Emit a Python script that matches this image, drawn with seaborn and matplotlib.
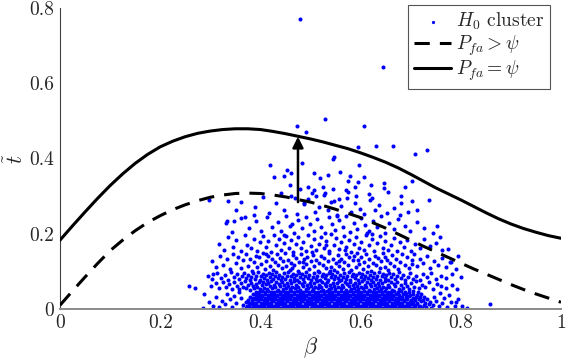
import numpy as np
import pandas as pd
import seaborn as sns
import matplotlib.pyplot as plt

# curves, beta step 0.025
beta_grid = [0.000, 0.025, 0.050, 0.075, 0.100, 0.125, 0.150, 0.175, 0.200, 0.225,
             0.250, 0.275, 0.300, 0.325, 0.350, 0.375, 0.400, 0.425, 0.450, 0.475,
             0.500, 0.525, 0.550, 0.575, 0.600, 0.625, 0.650, 0.675, 0.700, 0.725,
             0.750, 0.775, 0.800, 0.825, 0.850, 0.875, 0.900, 0.925, 0.950, 0.975, 1.000]
t_equal = [0.183, 0.221, 0.258, 0.294, 0.328, 0.359, 0.387, 0.411, 0.431, 0.446,
           0.458, 0.467, 0.473, 0.477, 0.479, 0.479, 0.477, 0.472, 0.466, 0.459,
           0.452, 0.444, 0.435, 0.426, 0.415, 0.403, 0.390, 0.375, 0.358, 0.340,
           0.322, 0.306, 0.290, 0.273, 0.256, 0.240, 0.226, 0.214, 0.204, 0.195, 0.188]
t_greater = [0.010, 0.048, 0.085, 0.121, 0.155, 0.183, 0.208, 0.230, 0.248, 0.264,
             0.277, 0.288, 0.297, 0.303, 0.307, 0.308, 0.307, 0.303, 0.298, 0.291,
             0.284, 0.275, 0.265, 0.254, 0.243, 0.229, 0.215, 0.199, 0.183, 0.167,
             0.152, 0.137, 0.122, 0.107, 0.093, 0.079, 0.065, 0.052, 0.040, 0.029, 0.018]

# arrow from dashed to solid curve
arrow_beta = 0.475
arrow_from = 0.284
arrow_to = 0.458

# H0 cluster points, (beta, t) in thousandths
cluster_outliers = [(479, 771), (645, 644), (473, 486), (528, 504), (492, 470), (607, 486),
                    (595, 431), (630, 434), (664, 434), (708, 411), (732, 422), (546, 405),
                    (545, 398), (484, 387), (596, 382), (419, 383)]
cluster_upper = [(453, 369), (462, 362), (506, 362), (518, 347), (558, 363), (578, 353),
                 (607, 350), (595, 338), (427, 350), (447, 353), (647, 334), (647, 322),
                 (689, 325), (702, 341), (479, 318), (495, 323), (506, 316), (525, 325),
                 (571, 316), (588, 323), (616, 305), (702, 288), (737, 291), (297, 289),
                 (336, 287), (361, 284), (441, 308), (528, 307), (557, 293), (535, 356),
                 (575, 340), (622, 296), (655, 310), (545, 318), (510, 300), (470, 296),
                 (488, 283), (540, 285), (590, 300), (460, 330), (620, 330), (680, 300),
                 (333, 233), (348, 233), (370, 244), (752, 220), (759, 191), (795, 142),
                 (775, 160), (780, 125), (790, 105), (800, 85)]
cluster_band_a = [(352, 262), (389, 271), (405, 297), (418, 255), (431, 283), (447, 262),
                  (462, 301), (474, 252), (487, 279), (496, 293), (508, 258), (517, 271),
                  (526, 303), (534, 262), (546, 287), (553, 251), (561, 274), (572, 296),
                  (581, 258), (589, 281), (598, 267), (607, 252), (619, 289), (628, 262),
                  (637, 276), (652, 255), (667, 268), (681, 283), (694, 257), (713, 262),
                  (503, 309), (575, 312)]
cluster_band_b = [(331, 228), (344, 205), (362, 241), (378, 214), (392, 233), (401, 206),
                  (413, 245), (424, 219), (436, 232), (441, 207), (452, 248), (459, 221),
                  (468, 203), (476, 236), (483, 214), (491, 245), (499, 227), (506, 208),
                  (513, 239), (521, 218), (528, 202), (536, 244), (542, 226), (549, 211),
                  (557, 236), (564, 219), (571, 246), (578, 204), (586, 229), (593, 213),
                  (601, 241), (609, 222), (616, 206), (624, 235), (633, 217), (641, 247),
                  (648, 203), (657, 228), (666, 212), (674, 239), (688, 221), (699, 207),
                  (712, 232), (726, 214), (744, 203), (387, 249), (463, 226), (553, 248),
                  (612, 201), (678, 249)]
cluster_band_c = [(318, 172), (327, 158), (336, 191), (345, 166), (352, 183), (361, 153),
                  (369, 197), (374, 171), (381, 162), (388, 186), (394, 155), (399, 177),
                  (405, 193), (411, 164), (416, 181), (421, 152), (427, 198), (432, 169),
                  (437, 187), (442, 158), (447, 176), (452, 194), (457, 163), (461, 183),
                  (466, 151), (471, 172), (476, 191), (481, 161), (486, 179), (491, 154),
                  (495, 196), (501, 168), (506, 185), (511, 157), (516, 174), (521, 192),
                  (526, 162), (531, 181), (536, 153), (541, 199), (546, 171), (551, 188),
                  (556, 159), (561, 177), (566, 194), (571, 165), (576, 183), (581, 152),
                  (586, 173), (591, 191), (596, 161), (601, 178), (606, 156), (611, 197),
                  (616, 169), (622, 186), (627, 154), (633, 175), (638, 193), (644, 163),
                  (649, 181), (655, 158), (661, 171), (667, 189), (673, 155), (679, 177),
                  (686, 165), (693, 184), (701, 153), (709, 172), (718, 161), (727, 186),
                  (738, 167), (751, 176), (763, 158), (448, 198), (503, 151), (568, 156),
                  (623, 199), (531, 169)]
cluster_band_d = [(303, 127), (311, 112), (319, 141), (326, 118), (333, 134), (339, 105),
                  (345, 146), (351, 122), (356, 138), (361, 109), (366, 129), (371, 147),
                  (375, 115), (379, 133), (383, 102), (387, 124), (391, 142), (394, 111),
                  (398, 137), (402, 119), (405, 148), (409, 106), (412, 128), (416, 141),
                  (419, 114), (423, 132), (426, 103), (429, 125), (433, 145), (436, 117),
                  (439, 136), (443, 108), (446, 127), (449, 149), (452, 113), (456, 131),
                  (459, 104), (462, 122), (465, 143), (468, 116), (472, 135), (475, 101),
                  (478, 126), (481, 147), (485, 111), (488, 133), (491, 119), (494, 139),
                  (497, 106), (501, 128), (504, 144), (507, 114), (511, 131), (514, 102),
                  (517, 123), (521, 141), (524, 117), (527, 136), (531, 109), (534, 127),
                  (537, 148), (541, 112), (544, 132), (547, 104), (551, 121), (554, 143),
                  (557, 115), (561, 134), (564, 107), (567, 125), (571, 146), (574, 118),
                  (577, 137), (581, 103), (584, 129), (587, 142), (591, 111), (594, 131),
                  (597, 119), (601, 139), (604, 105), (607, 126), (611, 145), (614, 113),
                  (617, 133), (621, 101), (624, 122), (628, 141), (631, 116), (634, 135),
                  (638, 108), (641, 127), (645, 148), (648, 112), (652, 131), (655, 104),
                  (659, 123), (663, 143), (667, 115), (671, 134), (675, 107), (679, 126),
                  (683, 145), (688, 118), (692, 137), (697, 109), (702, 129), (707, 146),
                  (713, 114), (719, 132), (725, 121), (732, 141), (739, 108), (746, 127),
                  (754, 116), (762, 135), (771, 111), (779, 124), (412, 147), (463, 109),
                  (538, 101), (593, 148), (648, 139), (703, 119), (486, 125), (556, 128)]
cluster_band_e = [(295, 88), (304, 79), (313, 95), (321, 83), (329, 91), (336, 77), (342, 98),
                  (348, 85), (353, 93), (358, 79), (363, 88), (367, 97), (371, 82), (375, 91),
                  (379, 76), (382, 86), (386, 95), (389, 81), (392, 89), (396, 99), (399, 78),
                  (402, 87), (405, 94), (408, 83), (411, 91), (414, 77), (417, 96), (420, 85),
                  (423, 92), (426, 79), (429, 88), (432, 98), (435, 82), (438, 91), (441, 76),
                  (444, 86), (447, 95), (450, 81), (453, 89), (456, 99), (459, 78), (462, 87),
                  (465, 94), (468, 83), (471, 91), (474, 77), (477, 96), (480, 85), (483, 92),
                  (486, 79), (489, 88), (492, 98), (495, 82), (498, 91), (501, 76), (504, 86),
                  (507, 95), (510, 81), (513, 89), (516, 99), (519, 78), (522, 87), (525, 94),
                  (528, 83), (531, 91), (534, 77), (537, 96), (540, 85), (543, 92), (546, 79),
                  (549, 88), (552, 98), (555, 82), (558, 91), (561, 76), (564, 86), (567, 95),
                  (570, 81), (573, 89), (576, 99), (579, 78), (582, 87), (585, 94), (588, 83),
                  (591, 91), (594, 77), (597, 96), (600, 85), (603, 92), (606, 79), (609, 88),
                  (612, 98), (615, 82), (618, 91), (621, 76), (624, 86), (627, 95), (630, 81),
                  (633, 89), (636, 99), (639, 78), (642, 87), (645, 94), (648, 83), (651, 91),
                  (654, 77), (657, 96), (660, 85), (664, 92), (668, 79), (672, 88), (676, 98),
                  (680, 82), (684, 91), (689, 76), (694, 86), (699, 95), (705, 81), (711, 89),
                  (718, 78), (725, 93), (733, 84), (741, 97), (750, 79), (760, 88), (771, 83),
                  (783, 93),
                  (302, 61), (311, 68), (318, 55), (325, 72), (331, 58), (337, 66), (343, 52),
                  (348, 71), (353, 61), (357, 54), (361, 68), (365, 59), (369, 74), (372, 56),
                  (376, 65), (379, 51), (382, 70), (385, 62), (388, 55), (391, 67), (394, 59),
                  (397, 73), (400, 53), (403, 64), (405, 71), (408, 57), (411, 66), (413, 52),
                  (416, 69), (419, 61), (421, 74), (424, 55), (427, 64), (429, 58), (432, 71),
                  (435, 51), (437, 66), (440, 60), (443, 73), (445, 54), (448, 65), (451, 57),
                  (453, 70), (456, 62), (459, 52), (461, 68), (464, 59), (467, 74), (469, 55),
                  (472, 64), (475, 58), (477, 71), (480, 51), (483, 66), (485, 60), (488, 73),
                  (491, 54), (493, 65), (496, 57), (499, 70), (501, 62), (504, 52), (507, 68),
                  (509, 59), (512, 74), (515, 55), (517, 64), (520, 58), (523, 71), (525, 51),
                  (528, 66), (531, 60), (533, 73), (536, 54), (539, 65), (541, 57), (544, 70),
                  (547, 62), (549, 52), (552, 68), (555, 59), (557, 74), (560, 55), (563, 64),
                  (565, 58), (568, 71), (571, 51), (573, 66), (576, 60), (579, 73), (581, 54),
                  (584, 65), (587, 57), (589, 70), (592, 62), (595, 52), (597, 68), (600, 59),
                  (603, 74), (605, 55), (608, 64), (611, 58), (613, 71), (616, 51), (619, 66),
                  (621, 60), (624, 73), (627, 54), (629, 65), (632, 57), (635, 70), (637, 62),
                  (640, 52), (643, 68), (645, 59), (648, 74), (651, 55), (654, 64), (657, 58),
                  (660, 71), (663, 51), (666, 66), (669, 60), (673, 73), (676, 54), (680, 65),
                  (684, 57), (688, 70), (692, 62), (697, 52), (701, 68), (706, 59), (711, 74),
                  (717, 55), (723, 64), (729, 58), (736, 71), (744, 53), (752, 66), (761, 60),
                  (771, 55), (782, 63), (793, 52), (258, 62), (270, 56)]
cluster_core = [(371, 3), (377, 5), (383, 2), (389, 6), (395, 4), (401, 3), (407, 5), (413, 2),
                (418, 6), (424, 4), (430, 3), (436, 5), (442, 2), (447, 6), (453, 4), (459, 3),
                (465, 5), (471, 2), (476, 6), (482, 4), (488, 3), (494, 5), (500, 2), (505, 6),
                (511, 4), (517, 3), (523, 5), (529, 2), (534, 6), (540, 4), (546, 3), (552, 5),
                (558, 2), (563, 6), (569, 4), (575, 3), (581, 5), (587, 2), (592, 6), (598, 4),
                (604, 3), (610, 5), (616, 2), (621, 6), (627, 4), (633, 3), (639, 5), (645, 2),
                (650, 6), (656, 4), (662, 3), (668, 5), (674, 2), (679, 6), (685, 4), (691, 3),
                (697, 5), (703, 2), (709, 6), (716, 4), (723, 3), (731, 5), (740, 2),
                (366, 11), (374, 9), (380, 12), (386, 10), (392, 13), (398, 9), (404, 11),
                (410, 12), (416, 10), (421, 13), (427, 9), (433, 11), (439, 12), (445, 10),
                (450, 13), (456, 9), (462, 11), (468, 12), (474, 10), (479, 13), (485, 9),
                (491, 11), (497, 12), (503, 10), (508, 13), (514, 9), (520, 11), (526, 12),
                (532, 10), (537, 13), (543, 9), (549, 11), (555, 12), (561, 10), (566, 13),
                (572, 9), (578, 11), (584, 12), (590, 10), (595, 13), (601, 9), (607, 11),
                (613, 12), (619, 10), (624, 13), (630, 9), (636, 11), (642, 12), (648, 10),
                (653, 13), (659, 9), (665, 11), (671, 12), (677, 10), (682, 13), (688, 9),
                (694, 11), (700, 12), (706, 10), (712, 13), (719, 9), (727, 11), (736, 12),
                (745, 10),
                (372, 18), (378, 16), (384, 19), (390, 17), (396, 20), (402, 16), (408, 18),
                (414, 19), (419, 17), (425, 20), (431, 16), (437, 18), (443, 19), (448, 17),
                (454, 20), (460, 16), (466, 18), (472, 19), (477, 17), (483, 20), (489, 16),
                (495, 18), (501, 19), (506, 17), (512, 20), (518, 16), (524, 18), (530, 19),
                (535, 17), (541, 20), (547, 16), (553, 18), (559, 19), (564, 17), (570, 20),
                (576, 16), (582, 18), (588, 19), (593, 17), (599, 20), (605, 16), (611, 18),
                (617, 19), (622, 17), (628, 20), (634, 16), (640, 18), (646, 19), (651, 17),
                (657, 20), (663, 16), (669, 18), (675, 19), (680, 17), (686, 20), (692, 16),
                (698, 18), (705, 19), (712, 17), (720, 20), (729, 16), (738, 18),
                (376, 25), (383, 23), (389, 26), (395, 24), (401, 27), (407, 23), (413, 25),
                (419, 26), (424, 24), (430, 27), (436, 23), (442, 25), (448, 26), (453, 24),
                (459, 27), (465, 23), (471, 25), (477, 26), (482, 24), (488, 27), (494, 23),
                (500, 25), (506, 26), (511, 24), (517, 27), (523, 23), (529, 25), (535, 26),
                (540, 24), (546, 27), (552, 23), (558, 25), (564, 26), (569, 24), (575, 27),
                (581, 23), (587, 25), (593, 26), (598, 24), (604, 27), (610, 23), (616, 25),
                (622, 26), (627, 24), (633, 27), (639, 23), (645, 25), (651, 26), (656, 24),
                (662, 27), (668, 23), (674, 25), (680, 26), (686, 24), (693, 27), (700, 23),
                (708, 25), (716, 26), (724, 24), (732, 27),
                (380, 32), (386, 30), (392, 33), (398, 31), (404, 34), (410, 30), (416, 32),
                (421, 33), (427, 31), (433, 34), (439, 30), (445, 32), (450, 33), (456, 31),
                (462, 34), (468, 30), (474, 32), (479, 33), (485, 31), (491, 34), (497, 30),
                (503, 32), (508, 33), (514, 31), (520, 34), (526, 30), (532, 32), (537, 33),
                (543, 31), (549, 34), (555, 30), (561, 32), (566, 33), (572, 31), (578, 34),
                (584, 30), (590, 32), (595, 33), (601, 31), (607, 34), (613, 30), (619, 32),
                (624, 33), (630, 31), (636, 34), (642, 30), (648, 32), (653, 33), (659, 31),
                (665, 34), (671, 30), (677, 32), (683, 33), (690, 31), (697, 34), (704, 30),
                (711, 32), (718, 33), (726, 31),
                (386, 39), (392, 37), (398, 40), (404, 38), (410, 41), (415, 37), (421, 39),
                (427, 40), (433, 38), (439, 41), (444, 37), (450, 39), (456, 40), (462, 38),
                (468, 41), (473, 37), (479, 39), (485, 40), (491, 38), (497, 41), (502, 37),
                (508, 39), (514, 40), (520, 38), (526, 41), (531, 37), (537, 39), (543, 40),
                (549, 38), (555, 41), (560, 37), (566, 39), (572, 40), (578, 38), (584, 41),
                (589, 37), (595, 39), (601, 40), (607, 38), (613, 41), (618, 37), (624, 39),
                (630, 40), (636, 38), (642, 41), (647, 37), (653, 39), (659, 40), (665, 38),
                (671, 41), (677, 37), (684, 39), (691, 40), (698, 38), (705, 41), (712, 37),
                (720, 39),
                (392, 46), (398, 44), (404, 47), (410, 45), (416, 48), (422, 44), (427, 46),
                (433, 47), (439, 45), (445, 48), (451, 44), (456, 46), (462, 47), (468, 45),
                (474, 48), (480, 44), (485, 46), (491, 47), (497, 45), (503, 48), (509, 44),
                (514, 46), (520, 47), (526, 45), (532, 48), (538, 44), (543, 46), (549, 47),
                (555, 45), (561, 48), (567, 44), (572, 46), (578, 47), (584, 45), (590, 48),
                (596, 44), (601, 46), (607, 47), (613, 45), (619, 48), (625, 44), (630, 46),
                (636, 47), (642, 45), (648, 48), (654, 44), (660, 46), (667, 47), (674, 45),
                (681, 48), (688, 44), (696, 46), (705, 47), (714, 45)]
cluster_edge = [(285, 2), (298, 18), (306, 9), (312, 31), (318, 4), (323, 22), (329, 13),
                (334, 41), (339, 27), (343, 6), (348, 35), (352, 17), (357, 46), (361, 28),
                (746, 33), (751, 21), (756, 8), (759, 42), (763, 15), (767, 29), (772, 4),
                (776, 37), (781, 18), (788, 9), (794, 26), (791, 18), (803, 9), (858, 12),
                (812, 3), (364, 1), (742, 1), (287, 40), (305, 93)]

sns.set_style("white")
plt.rcParams["font.family"] = ["cmr10", "DejaVu Serif"]
plt.rcParams["mathtext.fontset"] = "cm"
plt.rcParams["axes.formatter.use_mathtext"] = True

pts = np.array(cluster_outliers + cluster_upper + cluster_band_a + cluster_band_b
               + cluster_band_c + cluster_band_d + cluster_band_e + cluster_core
               + cluster_edge) / 1000.0
df_pts = pd.DataFrame({"beta": pts[:, 0], "t": pts[:, 1]})
df_curves = pd.DataFrame({"beta": beta_grid, "greater": t_greater, "equal": t_equal})

fig = plt.figure(figsize=(5.66, 3.62), dpi=100)
ax = fig.add_axes([60 / 566, 1 - 309 / 362, 501 / 566, 301 / 362])

sns.scatterplot(data=df_pts, x="beta", y="t", color="#0000ff", s=8.5, marker="o",
                linewidth=0, label=r"$H_0$ cluster", ax=ax, zorder=2)
sns.lineplot(data=df_curves, x="beta", y="greater", color="black", lw=2.2,
             label=r"$P_{fa} > \psi$", ax=ax, zorder=3)
sns.lineplot(data=df_curves, x="beta", y="equal", color="black", lw=2.2,
             label=r"$P_{fa} = \psi$", ax=ax, zorder=3)
ax.get_lines()[0].set_dashes((5, 3.3))

ax.annotate("", xy=(arrow_beta, arrow_to), xytext=(arrow_beta, arrow_from),
            arrowprops=dict(arrowstyle="-|>", lw=1.8, color="black",
                            mutation_scale=16, shrinkA=0, shrinkB=0), zorder=4)

ax.set_xlim(0, 1)
ax.set_ylim(0, 0.8)
ax.set_xticks([0, 0.2, 0.4, 0.6, 0.8, 1])
ax.set_xticklabels(["0", "0.2", "0.4", "0.6", "0.8", "1"])
ax.set_yticks([0, 0.2, 0.4, 0.6, 0.8])
ax.set_yticklabels(["0", "0.2", "0.4", "0.6", "0.8"])
ax.tick_params(direction="in", length=4, width=0.8, colors="#404040", labelsize=14,
               labelcolor="#262626", pad=4)
ax.set_xlabel(r"$\beta$", fontsize=16, color="#262626", labelpad=2)
ax.set_ylabel(r"$\tilde{t}$", fontsize=16, color="#262626", labelpad=2)
sns.despine(ax=ax)
ax.spines["left"].set_color("#404040")
ax.spines["left"].set_linewidth(0.8)
ax.spines["bottom"].set_color("#8a8a8a")
ax.spines["bottom"].set_linewidth(1.4)

leg = ax.legend(loc="upper right", bbox_to_anchor=(550 / 566, 1 - 5 / 362),
                bbox_transform=fig.transFigure, borderaxespad=0, fontsize=14,
                frameon=True, fancybox=False, framealpha=1, edgecolor="#555555",
                handlelength=1.9, handletextpad=0.25, labelspacing=0.05,
                borderpad=0.3, markerscale=0.8)
leg.get_frame().set_linewidth(0.8)

fig.savefig("out.png", dpi=100)
